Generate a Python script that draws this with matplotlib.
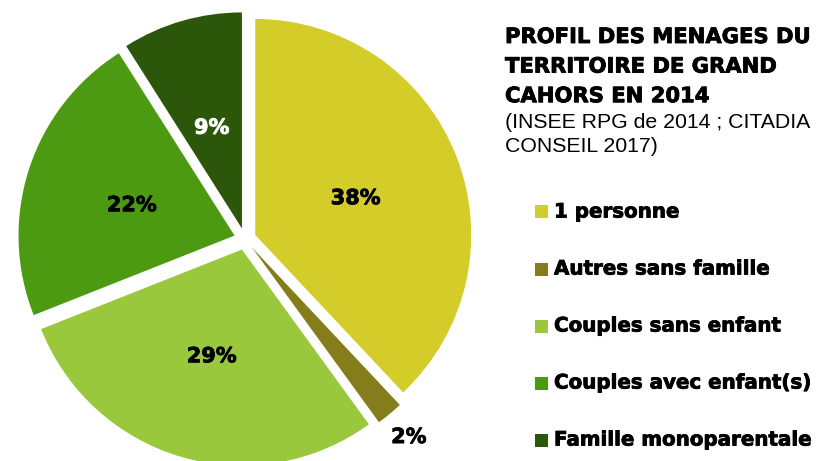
import matplotlib.pyplot as plt
import matplotlib.patheffects as pe
from matplotlib.patches import Rectangle
import numpy as np

# Profil des ménages - Grand Cahors 2014
categories = ['1 personne', 'Autres sans famille', 'Couples sans enfant',
              'Couples avec enfant(s)', 'Famille monoparentale']
parts = [38, 2, 29, 22, 9]
colors = ['#D4CD29', '#857C1C', '#99C83D', '#4B9A12', '#2C5609']
label_colors = ['black', 'black', 'black', 'black', 'white']

title = 'PROFIL DES MENAGES DU\nTERRITOIRE DE GRAND\nCAHORS EN 2014'
source = '(INSEE RPG de 2014 ; CITADIA\nCONSEIL 2017)'

W, H = 825, 461
fig = plt.figure(figsize=(W / 100, H / 100), dpi=100)
ax = fig.add_axes([0, 0, 1, 1])

# on travaille en pixels : 1 unité = 1 px, y vers le haut
R = 216
cx, cy = 245, H - 239


def heavy(color):
    # épaissit un peu le gras
    return [pe.withStroke(linewidth=0.6, foreground=color)]


wedges, texts, autotexts = ax.pie(
    parts, colors=colors, radius=R, center=(cx, cy),
    startangle=90, counterclock=False, explode=[11] * len(parts),
    autopct='%.0f%%', pctdistance=0.5,
    wedgeprops=dict(linewidth=0),
    textprops=dict(fontsize=15, fontweight='bold', family='DejaVu Sans'))

for t, c in zip(autotexts, label_colors):
    t.set_color(c)
    t.set_path_effects(heavy(c))
    x, y = t.get_position()
    t.set_position((x, y - 3))

# le petit secteur : étiquette à l'extérieur
w = wedges[1]
ang = np.deg2rad((w.theta1 + w.theta2) / 2)
autotexts[1].set_position((cx + 1.19 * R * np.cos(ang), cy + 1.19 * R * np.sin(ang)))

ax.set_xlim(0, W)
ax.set_ylim(0, H)
ax.axis('off')

# titre + source
ax.text(505, H - 27, title, fontsize=15.2, fontweight='bold', family='DejaVu Sans',
        va='top', ha='left', linespacing=1.6, path_effects=heavy('black'))
ax.text(505, H - 113, source, fontsize=15.3, family='Liberation Sans',
        va='top', ha='left', linespacing=1.35)

# légende
y0, step = 212, 57
for i, (lab, col) in enumerate(zip(categories, colors)):
    y = H - (y0 + i * step)
    ax.add_patch(Rectangle((535, y - 6.5), 13, 13, facecolor=col, edgecolor='none'))
    ax.text(554, y, lab, fontsize=14.3, fontweight='bold', family='DejaVu Sans',
            va='center', ha='left', path_effects=heavy('black'))

fig.savefig('out.png', dpi=100)
